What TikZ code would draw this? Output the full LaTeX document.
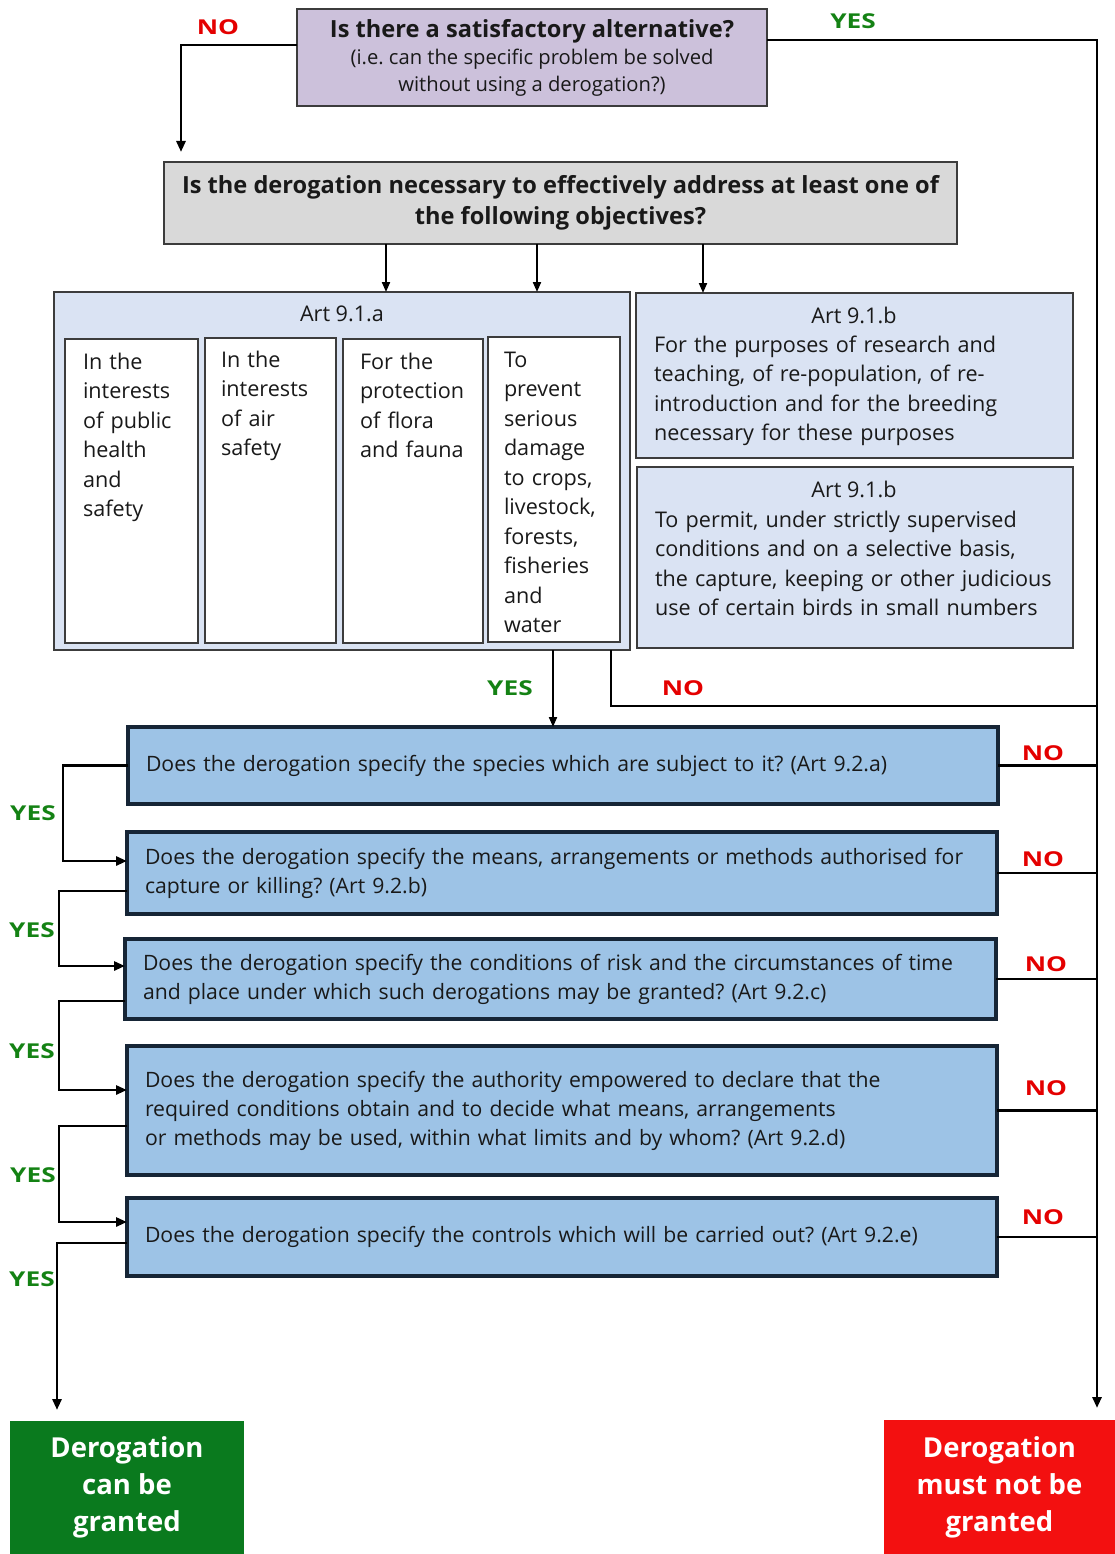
\documentclass[tikz,border=0pt]{standalone}
\usepackage{fontspec}
\setmainfont{Open Sans}
\newfontfamily\lblfont{Open Sans}[FakeStretch=1.28]
\usetikzlibrary{arrows.meta}
\definecolor{purp}{RGB}{204,193,219}
\definecolor{greyb}{RGB}{217,217,217}
\definecolor{lblue}{RGB}{218,227,243}
\definecolor{mblue}{RGB}{157,195,230}
\definecolor{navy}{RGB}{22,37,54}
\definecolor{ygreen}{RGB}{20,130,20}
\definecolor{nred}{RGB}{228,0,0}
\definecolor{gbox}{RGB}{10,122,30}
\definecolor{rbox}{RGB}{243,16,16}
\definecolor{edge}{RGB}{60,60,60}
\definecolor{txt}{RGB}{25,25,25}
\newcommand\fs[2]{\fontsize{#1}{#2}\selectfont}
\newcommand\bx[7]{\node[#2, minimum width={#5-#3}, minimum height={#6-#4}] (#1) at ({(#3+#5)/2},{(#4+#6)/2}) {#7};}
\frenchspacing
\begin{document}
\begin{tikzpicture}[x=1pt,y=-1pt,
 every node/.style={inner sep=0pt, outer sep=0pt, text=txt},
 conn/.style={line width=2.8pt, black},
 arr/.style={conn, -{Triangle[length=11pt,width=9pt]}},
 thinarr/.style={line width=2pt, -{Triangle[length=10pt,width=8pt]}},
 yes/.style={font=\lblfont\fs{20.5}{22}\bfseries, text=ygreen},
 no/.style={font=\lblfont\fs{20.5}{22}\bfseries, text=nred},
 qbox/.style={draw=navy, line width=4pt, fill=mblue, align=left, inner xsep=18pt, font=\fs{21.2}{29}},
 abox/.style={draw=edge, line width=1.5pt, fill=lblue},
 col/.style={draw=edge, line width=1.2pt, fill=white},
 body/.style={anchor=base west, align=left, text width=300pt, font=\fs{21.6}{29.5}},
 ttl/.style={anchor=base, font=\fs{21.6}{24}},
 fin/.style={text=white, align=center, font=\fs{27.5}{37}\bfseries},
]
\useasboundingbox (0,0) rectangle (1115,1554);

% top questions
\bx{q0}{draw=edge, line width=1.5pt, fill=purp, align=center, font=\fs{20.2}{27}}{297}{9}{767}{106}{{\fs{23.6}{27}\bfseries Is there a satisfactory alternative?}\\(i.e. can the specific problem be solved\\without using a derogation?)}
\bx{q1}{draw=edge, line width=1.5pt, fill=greyb, align=center, font=\fs{23.6}{31}\bfseries}{164}{162}{957}{244}{Is the derogation necessary to effectively address at least one of\\the following objectives?}

% Art 9.1.a
\bx{artA}{abox}{54}{292}{630}{650}{}
\node[ttl] (tA) at (342,321) {Art 9.1.a};
\bx{c1}{col}{65}{339}{198}{643}{}
\bx{c2}{col}{205}{338}{336}{643}{}
\bx{c3}{col}{343}{339}{483}{643}{}
\bx{c4}{col}{488}{337}{620}{642}{}
\node[body] (t1) at (83,369) {In the\\interests\\of public\\health\\and\\safety};
\node[body] (t2) at (221,367) {In the\\interests\\of air\\safety};
\node[body] (t3) at (360,369) {For the\\protection\\of flora\\and fauna};
\node[body] (t4) at (504,367) {To\\prevent\\serious\\damage\\to crops,\\livestock,\\forests,\\fisheries\\and\\water};

% Art 9.1.b
\bx{artB1}{abox}{636}{293}{1073}{458}{}
\node[ttl] (tB1) at (854,323) {Art 9.1.b};
\node[body, text width=410pt] (b1) at (654,352) {For the purposes of research and\\teaching, of re-population, of re-\\introduction and for the breeding\\necessary for these purposes};
\bx{artB2}{abox}{637}{467}{1073}{648}{}
\node[ttl] (tB2) at (854,497) {Art 9.1.b};
\node[body, text width=410pt] (b2) at (655,527) {To permit, under strictly supervised\\conditions and on a selective basis,\\the capture, keeping or other judicious\\use of certain birds in small numbers};

% Art 9.2 questions
\bx{qa}{qbox, text width=834pt}{128}{727}{998}{804}{Does the derogation specify the species which are subject to it? (Art 9.2.a)}
\bx{qb}{qbox, text width=834pt}{127}{832}{997}{914}{Does the derogation specify the means, arrangements or methods authorised for\\capture or killing? (Art 9.2.b)}
\bx{qc}{qbox, text width=835pt}{125}{939}{996}{1019}{Does the derogation specify the conditions of risk and the circumstances of time\\and place under which such derogations may be granted? (Art 9.2.c)}
\bx{qd}{qbox, text width=834pt}{127}{1046}{997}{1175}{Does the derogation specify the authority empowered to declare that the\\required conditions obtain and to decide what means, arrangements\\or methods may be used, within what limits and by whom? (Art 9.2.d)}
\bx{qe}{qbox, text width=834pt}{127}{1198}{997}{1276}{Does the derogation specify the controls which will be carried out? (Art 9.2.e)}

% outcomes
\bx{gfin}{fin, fill=gbox}{10}{1421}{244}{1554}{Derogation\\can be\\granted}
\bx{rfin}{fin, fill=rbox}{884}{1420}{1115}{1554}{Derogation\\must not be\\granted}

% connectors
\coordinate (rail) at (1097,0);
\draw[arr] ([yshift=12.5pt]q0.west) -| ([xshift=17pt,yshift=10pt]q1.north west);
\draw[arr] ([yshift=17.5pt]q0.east) -| ([xshift=-18pt,yshift=12pt]rfin.north east);
\coordinate (g1) at ([xshift=-174.5pt]q1.south);
\coordinate (g2) at ([xshift=-23.5pt]q1.south);
\coordinate (g3) at ([xshift=142.5pt]q1.south);
\draw[thinarr] (g1) -- (g1 |- artA.north);
\draw[thinarr] (g2) -- (g2 |- artA.north);
\draw[thinarr] (g3) -- (g3 |- artB1.north);
\coordinate (ay) at ([xshift=211pt]artA.south);
\coordinate (an) at ([xshift=269pt]artA.south);
\draw[thinarr] (ay) -- (ay |- qa.north);
\draw[conn] (an) -- ++(0,56) -- ++(486,0);
\foreach \q in {qa,qb,qc,qd,qe}{\draw[conn] (\q.east) -- (\q.east -| rail);}
\draw[arr] (qa.west) -- ++(-65,0) |- ([yshift=12pt]qb.west);
\draw[arr] ([yshift=-18pt]qb.west) -- ++(-68,0) |- ([yshift=13pt]qc.west);
\draw[arr] ([yshift=-22pt]qc.west) -- ++(-66,0) |- ([yshift=20.5pt]qd.west);
\draw[arr] ([yshift=-15.5pt]qd.west) -- ++(-68,0) |- ([yshift=15pt]qe.west);
\draw[arr] ([yshift=-6pt]qe.west) -- ++(-70,0) -- ([xshift=-70pt,yshift=11pt]gfin.north);

% labels
\node[no] (l1) at (218,27) {NO};
\node[yes] (l2) at (853,21) {YES};
\node[yes] (l3) at (510,688) {YES};
\node[no] (l4) at (683,688) {NO};
\node[yes] (ya) at (33,813) {YES};
\node[yes] (yb) at (32,930) {YES};
\node[yes] (yc) at (32,1051) {YES};
\node[yes] (yd) at (33,1175) {YES};
\node[yes] (ye) at (32,1279) {YES};
\node[no] (na) at (1043,753) {NO};
\node[no] (nb) at (1043,859) {NO};
\node[no] (nc) at (1046,964) {NO};
\node[no] (nd) at (1046,1088) {NO};
\node[no] (ne) at (1043,1217) {NO};
\end{tikzpicture}
\end{document}
